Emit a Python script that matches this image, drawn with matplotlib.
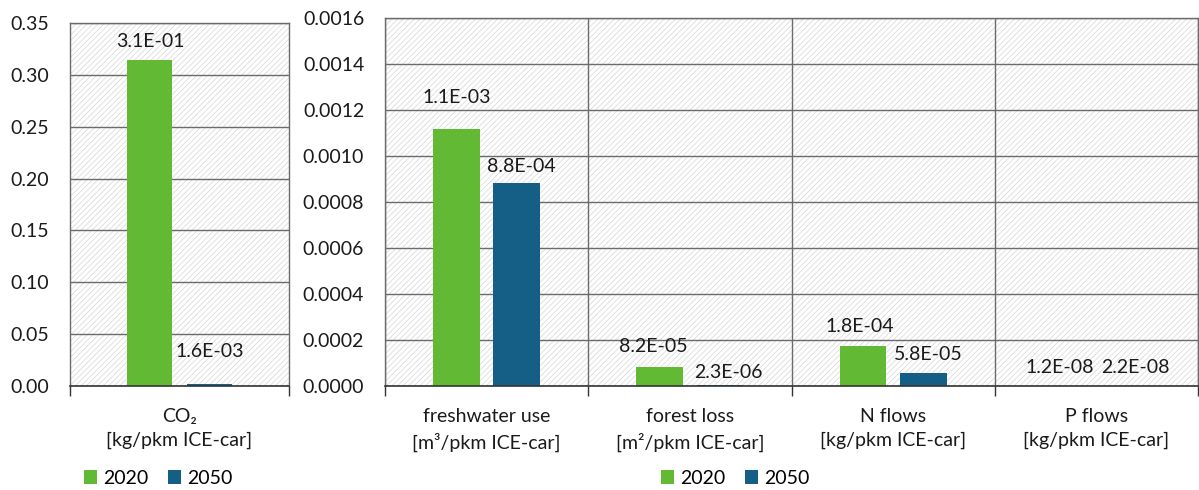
import matplotlib
matplotlib.use("Agg")
import matplotlib.pyplot as plt
from matplotlib.patches import Rectangle, Patch
from matplotlib.ticker import FormatStrFormatter, FixedLocator
import numpy as np

plt.rcParams['font.family'] = ['Lato', 'DejaVu Sans']
plt.rcParams['hatch.linewidth'] = 0.5

# ---- data ----
years = ["2020", "2050"]
left_categories = ["CO\u2082\n[kg/pkm ICE-car]"]
left_2020 = [0.314]
left_2050 = [1.6e-3]
left_labels_2020 = ["3.1E-01"]
left_labels_2050 = ["1.6E-03"]

right_categories = ["freshwater use\n[m\u00b3/pkm ICE-car]", "forest loss\n[m\u00b2/pkm ICE-car]",
                    "N flows\n[kg/pkm ICE-car]", "P flows\n[kg/pkm ICE-car]"]
right_2020 = [1.117e-3, 8.2e-5, 1.75e-4, 1.2e-8]
right_2050 = [8.83e-4, 2.3e-6, 5.7e-5, 2.2e-8]
right_labels_2020 = ["1.1E-03", "8.2E-05", "1.8E-04", "1.2E-08"]
right_labels_2050 = ["8.8E-04", "2.3E-06", "5.8E-05", "2.2E-08"]

# label offsets in pixels (dx, dy above bar top)
left_off_2020 = [(0, 19)]
left_off_2050 = [(0, 33)]
right_off_2020 = [(0, 32), (-6, 21), (-3, 19), (-7, 18)]
right_off_2050 = [(5, 16), (8, 13), (5, 18), (9, 18)]

GREEN = "#62B933"
BLUE = "#155E86"
GRID = "#6b6b6b"
FS = 14

W, H = 1199, 490
fig = plt.figure(figsize=(W / 100, H / 100), dpi=100)

axL = fig.add_axes([70 / W, (H - 386) / H, 219 / W, 363 / H])
axR = fig.add_axes([385 / W, (H - 386) / H, 813 / W, 368 / H])

px2pt = 0.72


def style(ax, ncat, ylim, yticks, fmt, off, bw, v20, v50, l20, l50, o20, o50, cats):
    ax.set_xlim(-0.5, ncat - 0.5)
    ax.set_ylim(*ylim)
    ax.add_patch(Rectangle((0, 0), 1, 1, transform=ax.transAxes, facecolor="white",
                           edgecolor="#d6d6d6", lw=0, hatch="//////", zorder=0.1))
    ax.set_axisbelow(True)
    x = np.arange(ncat)
    ax.bar(x + off[0], v20, width=bw, color=GREEN, zorder=2)
    ax.bar(x + off[1], v50, width=bw, color=BLUE, zorder=2)
    for i in range(ncat):
        ax.annotate(l20[i], xy=(x[i] + off[0], v20[i]), xytext=(o20[i][0] * px2pt, o20[i][1] * px2pt),
                    textcoords="offset points", ha="center", va="center", fontsize=FS, color="#1a1a1a")
        ax.annotate(l50[i], xy=(x[i] + off[1], v50[i]), xytext=(o50[i][0] * px2pt, o50[i][1] * px2pt),
                    textcoords="offset points", ha="center", va="center", fontsize=FS, color="#1a1a1a")
    ax.set_yticks(yticks)
    ax.yaxis.set_major_formatter(FormatStrFormatter(fmt))
    ax.tick_params(axis="y", length=0, pad=15, labelsize=FS, labelcolor="#1a1a1a")
    ax.grid(axis="y", color=GRID, lw=1)
    ax.set_xticks(x)
    ax.set_xticklabels(cats, fontsize=FS, linespacing=1.45, color="#1a1a1a")
    ax.tick_params(axis="x", which="major", length=0, pad=16)
    ax.xaxis.set_minor_locator(FixedLocator(np.arange(ncat + 1) - 0.5))
    ax.tick_params(axis="x", which="minor", length=7, width=1, color="#333333", direction="out")
    for s in ["left", "top", "right"]:
        ax.spines[s].set_color(GRID)
        ax.spines[s].set_linewidth(1)
    ax.spines["bottom"].set_color("#333333")
    ax.spines["bottom"].set_linewidth(1.2)


style(axL, 1, (0, 0.35), np.arange(0, 0.351, 0.05), "%.2f", (-0.135, 0.137), 0.205,
      left_2020, left_2050, left_labels_2020, left_labels_2050, left_off_2020, left_off_2050,
      left_categories)
style(axR, 4, (0, 0.0016), np.arange(0, 0.00161, 0.0002), "%.4f", (-0.148, 0.148), 0.23,
      right_2020, right_2050, right_labels_2020, right_labels_2050, right_off_2020, right_off_2050,
      right_categories)
axR.grid(axis="x", which="minor", color=GRID, lw=1)

handles = [Patch(facecolor=GREEN, edgecolor="none"), Patch(facecolor=BLUE, edgecolor="none")]
for cx in (158, 735):
    fig.legend(handles, years, loc="center", bbox_to_anchor=(cx / W, (H - 478) / H), ncol=2,
               frameon=False, fontsize=FS, handlelength=0.7, handleheight=0.7,
               handletextpad=0.3, columnspacing=1.0, borderaxespad=0, borderpad=0)

fig.savefig("out.png", dpi=100)
